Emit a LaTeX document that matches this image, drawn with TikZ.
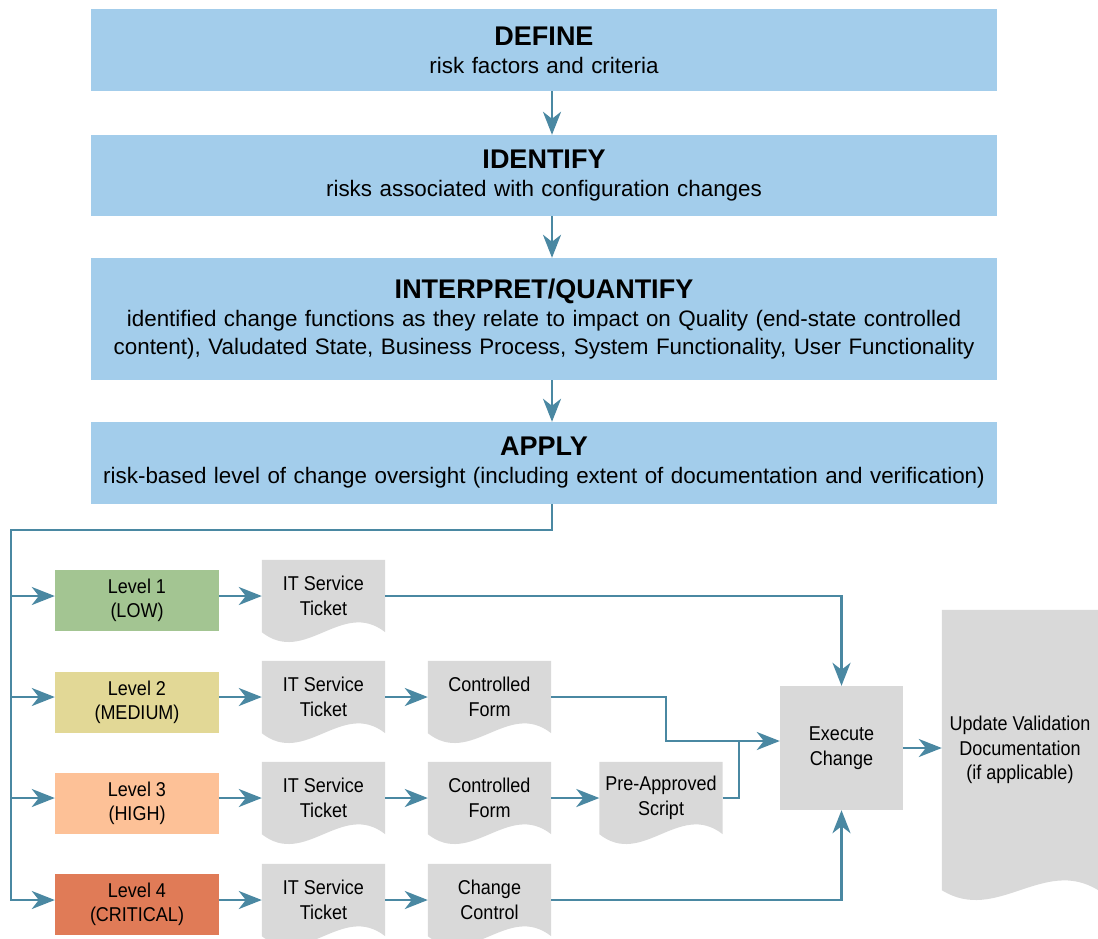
\documentclass[tikz,border=0pt]{standalone}
\usepackage{fontspec}
\setmainfont{Liberation Sans}
\newfontfamily\narrowsans[FakeStretch=0.9]{Liberation Sans}
\usetikzlibrary{arrows.meta, calc, backgrounds}

\definecolor{flowblue}{HTML}{4A88A2}
\definecolor{stageblue}{HTML}{A3CDEB}
\definecolor{lowgreen}{HTML}{A3C592}
\definecolor{medyellow}{HTML}{E2D896}
\definecolor{highorange}{HTML}{FDC197}
\definecolor{critred}{HTML}{E07B57}
\definecolor{docgray}{HTML}{D9D9D9}

\newcommand{\stagetitle}[1]{{\fontsize{27}{30}\selectfont\bfseries #1}}
\newcommand{\docfill}[1]{%
	\fill[docgray] (#1.north west) -- (#1.north east) -- (#1.south east)
		.. controls ($(#1.south east)!0.35!(#1.south west)+(0,-34)$)
		and ($(#1.south west)!0.35!(#1.south east)+(0,34)$) .. (#1.south west)
		-- cycle;}

\begin{document}
\begin{tikzpicture}[x=1pt, y=-1pt]
		% Node style
		\tikzset{stage/.style={rectangle, fill=stageblue,
								text width=900pt, minimum width=906pt,
								inner xsep=3pt, align=center,
								font=\fontsize{22.4}{28}\selectfont},
				 level/.style={rectangle, minimum width=164pt,
								minimum height=61pt, align=center,
								font=\narrowsans\fontsize{20}{24.5}\selectfont},
				 docbox/.style={rectangle, minimum width=123pt,
								minimum height=72pt, inner sep=0pt, align=center,
								font=\narrowsans\fontsize{20}{24.5}\selectfont},
				 flowline/.style={draw=flowblue, line width=2.7pt},
				 flow/.style={flowline,
								-{Stealth[length=23pt, width=18pt, inset=7pt]}}}
		
		\useasboundingbox (0, 0) rectangle (1098, 938);
		
		% Draw nodes
		\node[stage, minimum height=82pt]	at (544, 50)	(define)
			{\stagetitle{DEFINE}\\risk factors and criteria};
		\node[stage, minimum height=81pt]	at (544, 175.5)	(identify)
			{\stagetitle{IDENTIFY}\\risks associated with configuration changes};
		\node[stage, minimum height=122pt]	at (544, 319)	(interpret)
			{\stagetitle{INTERPRET/QUANTIFY}\\identified change functions as they relate to impact on Quality (end-state controlled\\content), Valudated State, Business Process, System Functionality, User Functionality};
		\node[stage, minimum height=82pt]	at (544, 463)	(apply)
			{\stagetitle{APPLY}\\risk-based level of change oversight (including extent of documentation and verification)};
		
		\node[level, fill=lowgreen]		at (137, 600.5)	(lvlA) {Level 1\\(LOW)};
		\node[level, fill=medyellow]	at (137, 702.5)	(lvlB) {Level 2\\(MEDIUM)};
		\node[level, fill=highorange]	at (137, 803.5)	(lvlC) {Level 3\\(HIGH)};
		\node[level, fill=critred]		at (137, 904.5)	(lvlD) {Level 4\\(CRITICAL)};
		
		\node[docbox]	at (323.5, 596)	(tktA) {IT Service\\Ticket};
		\node[docbox]	at (323.5, 697)	(tktB) {IT Service\\Ticket};
		\node[docbox]	at (323.5, 798)	(tktC) {IT Service\\Ticket};
		\node[docbox]	at (323.5, 900)	(tktD) {IT Service\\Ticket};
		\node[docbox]	at (489.5, 697)	(formB) {Controlled\\Form};
		\node[docbox]	at (489.5, 798)	(formC) {Controlled\\Form};
		\node[docbox]	at (489.5, 900)	(chg) {Change\\Control};
		\node[docbox]	at (661, 798)	(script) {Pre-Approved\\Script};
		\node[docbox, fill=docgray, minimum height=124pt]
						at (841.5, 748)	(exec) {Execute\\Change};
		\node[docbox, minimum width=156pt, minimum height=280pt]
						at (1020, 750)	(update) {Update Validation\\Documentation\\(if applicable)};
		
		\begin{scope}[on background layer]
			\foreach \d in {tktA, tktB, tktC, tktD, formB, formC, chg, script, update}
				{\docfill{\d}}
		\end{scope}
		
		\coordinate (bus) at (11, 530);
		\coordinate (mergeB) at (666, 741);
		\coordinate (mergeC) at (739, 741);
		
		% Draw connectors
		\foreach \s/\t in {define/identify, identify/interpret, interpret/apply}
			\draw[flow] ([xshift=8pt]\s.south) -- ([xshift=8pt]\t.north);
		
		\foreach \a/\b in {bus |- tktA/lvlA.west |- tktA,
						bus |- tktB/lvlB.west |- tktB,
						bus |- tktC/lvlC.west |- tktC,
						lvlA.east |- tktA/tktA.west,
						lvlB.east |- tktB/tktB.west,
						lvlC.east |- tktC/tktC.west,
						lvlD.east |- tktD/tktD.west,
						tktB.east/formB.west,
						tktC.east/formC.west,
						tktD.east/chg.west,
						formC.east/script.west,
						exec.east/update.west |- exec.east}
			\draw[flow] (\a) -- (\b);
		
		\draw[flow] ([xshift=8pt]apply.south) |- (bus) |- (lvlD.west |- tktD);
		\draw[flow] (tktA.east) -| (exec.north);
		\draw[flow] (chg.east) -| (exec.south);
		\draw[flow] (formB.east) -| (mergeB) -- (exec.west |- mergeB);
		\draw[flowline] (script.east) -| (mergeC);
		
	\end{tikzpicture}
\end{document}
